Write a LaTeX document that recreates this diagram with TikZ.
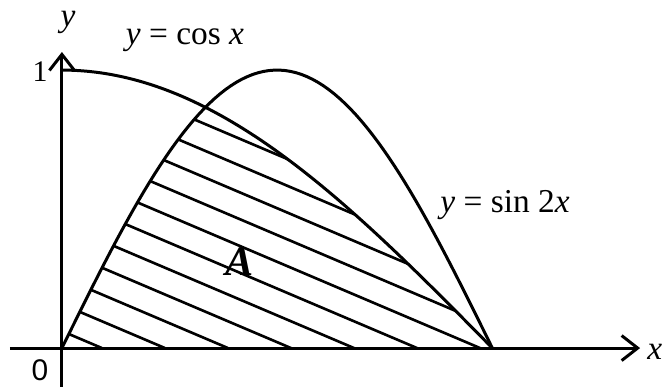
\documentclass[tikz,border=0pt]{standalone}
\usepackage{fontspec}
\setmainfont{Liberation Serif}
\setsansfont{Liberation Sans}
\usetikzlibrary{arrows.meta}

\begin{document}
\begin{tikzpicture}[x=5.48cm, y=5.56cm, line width=1.7pt,
  every node/.style={font=\fontsize{19}{22}\selectfont},
  axis/.style={-{Straight Barb[length=3.2mm,width=5mm]}},
  hatch/.style={line width=1.5pt}]
\useasboundingbox (-0.226,-0.140) rectangle (2.190,1.252);
\coordinate (xs) at (-0.19,0);
\coordinate (xe) at (2.11,0);
\coordinate (ys) at (0,-0.16);
\coordinate (ye) at (0,1.065);
\draw[axis] (xs) -- (xe);
\draw[axis] (ys) -- (ye);
% hatching of A
\begin{scope}
\clip plot[domain=0:0.5236, samples=40] (\x,{sin(2*\x r)}) -- plot[domain=0.5236:1.5708, samples=60] (\x,{cos(\x r)}) -- cycle;
\foreach \c in {0,...,10}
  \draw[hatch] ({0.146+0.23*\c},0) -- ++(-2.8,1.173);
\end{scope}
\draw plot[domain=0:1.5708, samples=80] (\x,{cos(\x r)});
\draw plot[domain=0:1.5708, samples=80] (\x,{sin(2*\x r)});
\node (ylab) at (0.022,1.173) {\textit{y}};
\node (xlab) at (2.164,-0.014) {\textit{x}};
\node[font=\fontsize{17}{20}\selectfont] (one) at (-0.08,0.993) {1};
\node[font=\fontsize{17}{20}\selectfont\sffamily] (zero) at (-0.08,-0.08) {0};
\node (lcos) at (0.449,1.108) {\textit{y} = cos \textit{x}};
\node (lsin) at (1.617,0.514) {\textit{y} = sin 2\textit{x}};
\node[font=\fontsize{24}{26}\selectfont\bfseries\itshape] (la) at (0.65,0.31) {A};
\end{tikzpicture}
\end{document}
